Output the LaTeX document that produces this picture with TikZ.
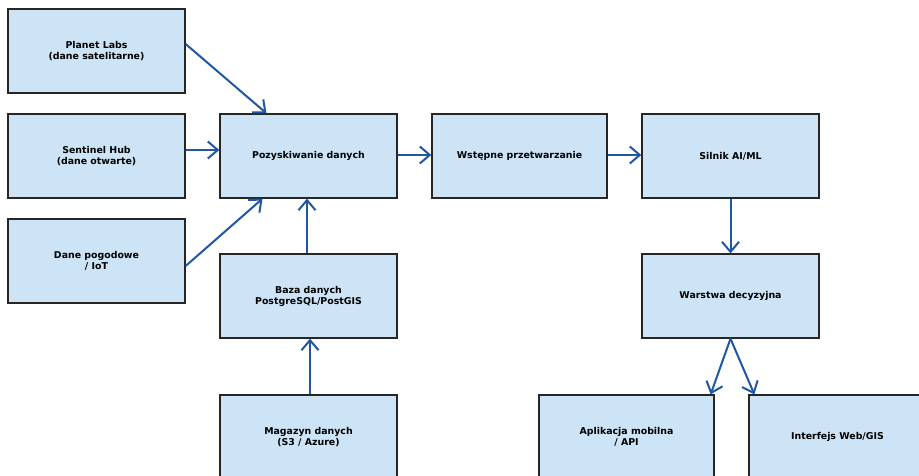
\documentclass[tikz,border=0pt]{standalone}
\usepackage{fontspec}
\setmainfont{DejaVu Sans}
\usetikzlibrary{arrows.meta}
\definecolor{boxfill}{HTML}{CCE4F5}
\definecolor{flowblue}{HTML}{1F57A4}
\begin{document}
\begin{tikzpicture}[x=1pt, y=-1pt,
    box/.style={draw=black!85, line width=1.3pt, fill=boxfill, minimum width=177pt, minimum height=84pt,
      align=center, font=\fontsize{9.4}{11}\selectfont\bfseries, inner sep=0pt},
    flow/.style={draw=flowblue, line width=2pt, -{Straight Barb[length=10pt,width=17pt,line width=2pt]}}]
    \clip (0, 0) rectangle (919, 476);
    \fill[white] (0, 0) rectangle (919, 476);

    \def\colA{96.5}
    \def\colB{308.5}
    \def\colC{519.5}
    \def\colD{730.5}

    \node[box] (pl) at (\colA, 51) {Planet Labs\\(dane satelitarne)};
    \node[box] (sh) at (\colA, 156) {Sentinel Hub\\(dane otwarte)};
    \node[box] (dp) at (\colA, 261) {Dane pogodowe\\/ IoT};

    \node[box] (pz) at (\colB, 156) {Pozyskiwanie danych};
    \node[box] (bz) at (\colB, 296) {Baza danych\\PostgreSQL/PostGIS};
    \node[box] (mg) at (\colB, 437) {Magazyn danych\\(S3 / Azure)};

    \node[box, minimum width=175pt] (wp) at (\colC, 156) {Wstępne przetwarzanie};
    \node[box] (si) at (\colD, 156) {Silnik AI/ML};
    \node[box] (ws) at (\colD, 296) {Warstwa decyzyjna};

    \node[box, minimum width=175pt] (ap) at (626.5, 437) {Aplikacja mobilna\\/ API};
    \node[box] (wi) at (837.5, 437) {Interfejs Web/GIS};

    \draw[flow] ([yshift=7pt]pl.east) -- ([xshift=-42pt]pz.north);
    \draw[flow] ([yshift=6pt]sh.east) -- ([yshift=6pt]pz.west);
    \draw[flow] ([yshift=-5pt]dp.east) -- ([xshift=-46pt]pz.south);
    \draw[flow] ([xshift=-1.5pt]bz.north) -- ([xshift=-1.5pt]pz.south);
    \draw[flow] ([xshift=1.5pt]mg.north) -- ([xshift=1.5pt]bz.south);

    \draw[flow] ([yshift=1pt]pz.east) -- ([yshift=1pt]wp.west);
    \draw[flow] ([yshift=1pt]wp.east) -- ([yshift=1pt]si.west);
    \draw[flow] (si.south) -- (ws.north);

    \draw[flow] (ws.south) -- ([xshift=-4pt]ap.north east);
    \draw[flow] (ws.south) -- ([xshift=6pt]wi.north west);
\end{tikzpicture}
\end{document}
